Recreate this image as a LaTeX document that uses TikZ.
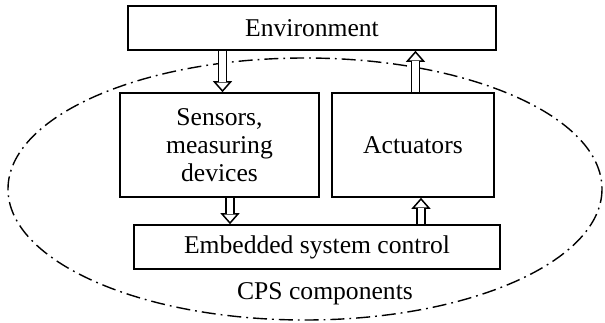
\documentclass[tikz,border=0pt]{standalone}
\usepackage{fontspec}
\setmainfont{Liberation Serif}
\usepackage{tikz}
\usetikzlibrary{arrows.meta,calc}
\tikzset{
  block/.style={draw, line width=0.8pt, align=center, inner sep=0pt},
  hollow/.style={draw, line width=0.75pt, -{Triangle[fill=white, length=5.5pt, width=9.5pt]},
    postaction={draw, -, line width=4.9pt, shorten >=5.5pt},
    postaction={draw=white, -, line width=3.4pt, shorten >=5pt}},
  cps line/.style={line width=0.7pt, dash pattern=on 7pt off 2.5pt on 0.9pt off 2.5pt}
}

\begin{document}
\begin{tikzpicture}[x=0.5pt, y=-0.5pt, font=\fontsize{12.8pt}{14pt}\selectfont]
\useasboundingbox (0,0) rectangle (605,322);
\draw[cps line] (305,189) ellipse (297 and 131);
\node[block, minimum width=184pt, minimum height=22pt] (env) at (312,28) {Environment};
\node[block, minimum width=99.5pt, minimum height=52pt] (sens) at (219.5,145) {Sensors,\\measuring\\devices};
\node[block, minimum width=81pt, minimum height=52pt] (act) at (413,145) {Actuators};
\node[block, minimum width=183pt, minimum height=22pt] (emb) at (317,247) {Embedded system control};
\node (cps) at (325,294) {CPS components};
% flows
\draw[hollow] ($(sens.north |- env.south)+(3,0)$) -- ($(sens.north)+(3,0)$);
\draw[hollow] ($(act.north)+(2.5,0)$) -- ($(act.north |- env.south)+(2.5,0)$);
\draw[hollow] ($(sens.south)+(10.5,0)$) -- ($(sens.south |- emb.north)+(10.5,0)$);
\draw[hollow] ($(act.south |- emb.north)+(8,0)$) -- ($(act.south)+(8,0)$);
\end{tikzpicture}
\end{document}
